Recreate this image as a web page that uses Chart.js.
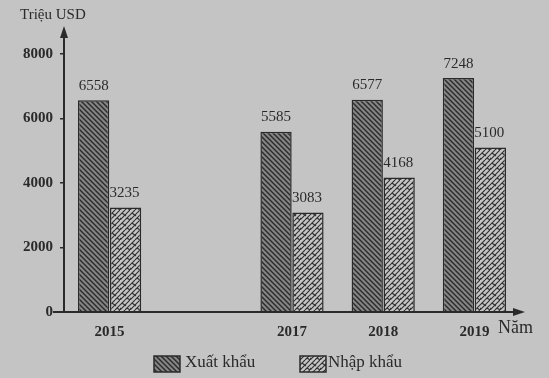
<!DOCTYPE html>
<html><head><meta charset="utf-8">
<script src="https://cdn.jsdelivr.net/npm/chart.js@4/dist/chart.umd.min.js"></script>
<style>html,body{margin:0;padding:0;background:#c4c4c4;}#c{display:block;}</style>
</head><body>
<canvas id="c" width="549" height="378"></canvas>
<script>
const years = ['2015', '', '2017', '2018', '2019'];
const exportValues = [6558, null, 5585, 6577, 7248];
const importValues = [3235, null, 3083, 4168, 5100];
const yTicks = [0, 2000, 4000, 6000, 8000];
const seriesNames = ['Xuất khẩu', 'Nhập khẩu'];

function hatchPattern() {
  const c = document.createElement('canvas'); c.width = 5; c.height = 5;
  const x = c.getContext('2d');
  x.fillStyle = '#858585'; x.fillRect(0, 0, 5, 5);
  x.strokeStyle = '#2a2a2a'; x.lineWidth = 1.4;
  x.beginPath();
  x.moveTo(-1, -1); x.lineTo(6, 6);
  x.moveTo(-1, 4); x.lineTo(1, 6);
  x.moveTo(4, -1); x.lineTo(6, 1);
  x.stroke();
  return x.createPattern(c, 'repeat');
}
function brickPattern() {
  const c = document.createElement('canvas'); c.width = 10; c.height = 10;
  const x = c.getContext('2d');
  x.fillStyle = '#c6c6c6'; x.fillRect(0, 0, 10, 10);
  x.strokeStyle = '#333'; x.lineWidth = 1.2;
  x.beginPath();
  x.moveTo(0, 10); x.lineTo(10, 0);
  x.moveTo(-5, 10); x.lineTo(5, 0);
  x.moveTo(5, 10); x.lineTo(15, 0);
  x.stroke();
  x.beginPath();
  x.moveTo(2, 3); x.lineTo(6, 6);
  x.moveTo(7, 8); x.lineTo(10, 10);
  x.moveTo(0, 8); x.lineTo(1, 9);
  x.stroke();
  return x.createPattern(c, 'repeat');
}

const overlay = {
  id: 'overlay',
  beforeDraw(chart) {
    const ctx = chart.ctx;
    ctx.save(); ctx.fillStyle = '#c4c4c4'; ctx.fillRect(0, 0, chart.width, chart.height); ctx.restore();
  },
  afterDatasetsDraw(chart) {
    const ctx = chart.ctx, a = chart.chartArea;
    ctx.save();
    ctx.strokeStyle = '#2a2a2a'; ctx.fillStyle = '#2a2a2a'; ctx.lineWidth = 2;
    ctx.beginPath(); ctx.moveTo(a.left, a.bottom + 1); ctx.lineTo(a.left, a.top + 4); ctx.stroke();
    ctx.beginPath(); ctx.moveTo(a.left, a.top - 2); ctx.lineTo(a.left - 4, a.top + 10); ctx.lineTo(a.left + 4, a.top + 10); ctx.closePath(); ctx.fill();
    ctx.beginPath(); ctx.moveTo(a.left - 11, a.bottom); ctx.lineTo(a.right + 2, a.bottom); ctx.stroke();
    ctx.beginPath(); ctx.moveTo(a.right + 5, a.bottom); ctx.lineTo(a.right - 7, a.bottom - 4); ctx.lineTo(a.right - 7, a.bottom + 4); ctx.closePath(); ctx.fill();
    // value labels
    ctx.font = '15px "Liberation Serif", serif';
    ctx.textAlign = 'center'; ctx.textBaseline = 'bottom';
    chart.data.datasets.forEach((ds, di) => {
      chart.getDatasetMeta(di).data.forEach((el, i) => {
        const v = ds.data[i];
        if (v == null) return;
        ctx.fillText(String(v), el.x + (di === 1 ? -1 : 0), el.y - 7);
      });
    });
    // titles
    ctx.textAlign = 'left'; ctx.textBaseline = 'middle';
    ctx.font = '15px "Liberation Serif", serif';
    ctx.fillText('Triệu USD', 20, 15);
    ctx.font = '18px "Liberation Serif", serif';
    ctx.fillText('Năm', 498, a.bottom + 16);
    // legend
    const items = [{ x: 154, tx: 185 }, { x: 300, tx: 328 }];
    ctx.font = '17px "Liberation Serif", serif';
    chart.data.datasets.forEach((ds, di) => {
      const it = items[di];
      ctx.fillStyle = ds.backgroundColor;
      ctx.fillRect(it.x, 356, 26, 16);
      ctx.strokeStyle = '#2a2a2a'; ctx.lineWidth = 1.5;
      ctx.strokeRect(it.x, 356, 26, 16);
      ctx.fillStyle = '#2a2a2a';
      ctx.fillText(ds.label, it.tx, 363);
    });
    ctx.restore();
  }
};

new Chart(document.getElementById('c'), {
  type: 'bar',
  data: {
    labels: years,
    datasets: [
      { label: seriesNames[0], data: exportValues, backgroundColor: hatchPattern(), borderColor: '#2a2a2a', borderWidth: 1.5, borderSkipped: 'bottom' },
      { label: seriesNames[1], data: importValues, backgroundColor: brickPattern(), borderColor: '#2a2a2a', borderWidth: 1.5, borderSkipped: 'bottom' }
    ]
  },
  options: {
    responsive: false,
    animation: false,
    layout: { padding: { top: 28, right: 29, left: 0, bottom: 36 } },
    datasets: { bar: { categoryPercentage: 0.7, barPercentage: 0.98 } },
    scales: {
      x: {
        grid: { display: false },
        border: { display: false },
        ticks: { color: '#2a2a2a', font: { family: '"Liberation Serif", serif', size: 15, weight: 'bold' }, padding: 3 },
        afterFit(s) { s.height = 30; }
      },
      y: {
        min: 0, max: 8800,
        afterBuildTicks(s) { s.ticks = yTicks.map(v => ({ value: v })); },
        grid: { drawOnChartArea: false, drawTicks: true, tickLength: 4, color: '#2a2a2a', lineWidth: 1.5 },
        border: { display: false },
        ticks: { color: '#2a2a2a', font: { family: '"Liberation Serif", serif', size: 15, weight: 'bold' }, padding: 7, callback: v => String(v) },
        afterFit(s) { s.width = 64; }
      }
    },
    plugins: {
      legend: { display: false },
      tooltip: { enabled: false }
    }
  },
  plugins: [overlay]
});
</script>
</body></html>
